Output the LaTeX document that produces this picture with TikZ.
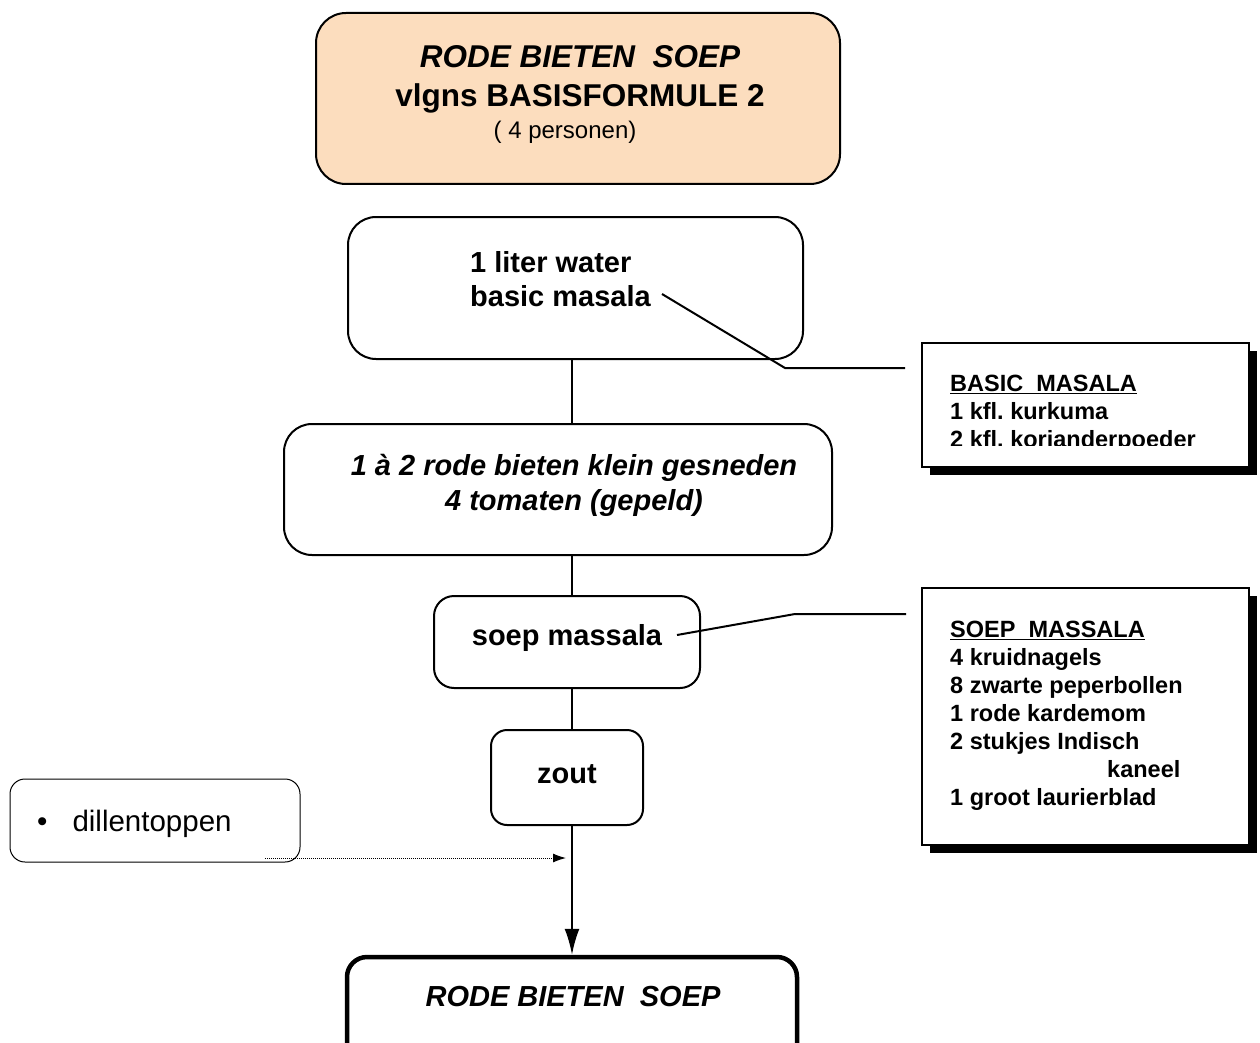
\documentclass[tikz,border=0pt]{standalone}
\usepackage{fontspec}
\setmainfont{Liberation Sans}
\usetikzlibrary{arrows.meta,shadows}
\frenchspacing
\definecolor{peach}{RGB}{252,221,190}
\tikzset{
  flowbox/.style={draw=black, line width=2pt, rounded corners=#1, inner sep=0pt},
  flowbox/.default=26pt,
  calloutbox/.style={draw=black, line width=2pt, fill=white, inner sep=0pt,
    drop shadow={shadow xshift=8pt, shadow yshift=-8pt, opacity=1, fill=black}},
  bigtxt/.style={font=\fontsize{29}{34}\selectfont\bfseries, align=center, inner sep=0pt},
  smalltxt/.style={font=\fontsize{23.5}{28}\selectfont\bfseries, align=left, inner sep=0pt, anchor=north west},
  conn/.style={line width=2pt},
}
\begin{document}
\begin{tikzpicture}[x=1pt,y=-1pt]
\useasboundingbox (0,0) rectangle (1260,1043);
\clip (0,0) rectangle (1260,1043);
% title
\node[flowbox=30pt, fill=peach, minimum width=524pt, minimum height=171pt] (title) at (578,98.5) {};
\node[bigtxt, font=\fontsize{31.5}{39}\selectfont\bfseries] (titlet) at (580,79)
  {\textit{RODE BIETEN\ \ SOEP}\\vlgns BASISFORMULE 2};
\node[inner sep=0pt, font=\fontsize{24}{28}\selectfont] (titlep) at (565,132) {( 4 personen)};
% box 1
\node[flowbox=28pt, minimum width=455pt, minimum height=142pt] (b1) at (575.5,288) {};
\node[bigtxt, align=left, anchor=west] (b1t) at (470,279) {1 liter water\\basic masala};
% box 2
\node[flowbox=28pt, minimum width=548pt, minimum height=131pt] (b2) at (558,489.5) {};
\node[bigtxt, font=\fontsize{29}{35}\selectfont\bfseries\itshape] (b2t) at (574,485)
  {1 à 2 rode bieten klein gesneden\\4 tomaten (gepeld)};
% box 3
\node[flowbox=20pt, minimum width=266pt, minimum height=92pt] (b3) at (567,642) {};
\node[bigtxt] (b3t) at (567,638) {soep massala};
% box 4
\node[flowbox=16pt, minimum width=152pt, minimum height=95pt] (b4) at (567,777.5) {};
\node[bigtxt] (b4t) at (567,774) {zout};
% dill box
\node[draw=black, line width=1pt, rounded corners=15pt, minimum width=290pt, minimum height=83pt, inner sep=0pt] (dill) at (155,820.5) {};
\node[inner sep=0pt, anchor=west, font=\fontsize{29.5}{33}\selectfont] (dillt) at (37,823.5) {\textbullet\hspace{25pt}dillentoppen};
% final box
\node[flowbox=20pt, line width=4.5pt, minimum width=450pt, minimum height=106pt] (fin) at (572,1010) {};
\node[bigtxt, font=\fontsize{29}{34}\selectfont\bfseries\itshape] (fint) at (573,997) {RODE BIETEN\ \ SOEP};
% spine connectors
\coordinate (spine) at (572,0);
\draw[conn] (b1.south -| spine) -- (b2.north -| spine);
\draw[conn] (b2.south -| spine) -- (b3.north -| spine);
\draw[conn] (b3.south -| spine) -- (b4.north -| spine);
\draw[conn, -{Latex[length=26pt,width=15pt]}] (b4.south -| spine) -- (fin.north -| spine);
% dotted arrow
\coordinate (dotstart) at (265,858);
\coordinate (dotend) at (566,858);
\draw[line width=1pt, densely dotted, -{Latex[length=13pt,width=9pt]}] (dotstart) -- (dotend);
% callout 1
\node[calloutbox, minimum width=327pt, minimum height=124pt] (c1) at (1085.5,405) {};
\begin{scope}
\clip (922,343) rectangle (1249,445.5);
\node[smalltxt] (c1t) at (950,375) {\underline{BASIC\ \ MASALA}\\1 kfl. kurkuma\\2 kfl. korianderpoeder};
\end{scope}
\coordinate (m1a) at (662,294);
\coordinate (m1b) at (785,368);
\coordinate (m1c) at (905,368);
\draw[conn] (m1a) -- (m1b) -- (m1c);
% callout 2
\node[calloutbox, minimum width=327pt, minimum height=257pt] (c2) at (1085.5,716.5) {};
\node[smalltxt] (c2t) at (950,621) {\underline{SOEP\ \ MASSALA}\\4 kruidnagels\\8 zwarte peperbollen\\1 rode kardemom\\2 stukjes Indisch\\\hspace*{157pt}kaneel\\1 groot laurierblad};
\coordinate (m2a) at (677,635);
\coordinate (m2b) at (795,614);
\coordinate (m2c) at (906,614);
\draw[conn] (m2a) -- (m2b) -- (m2c);
\end{tikzpicture}
\end{document}
